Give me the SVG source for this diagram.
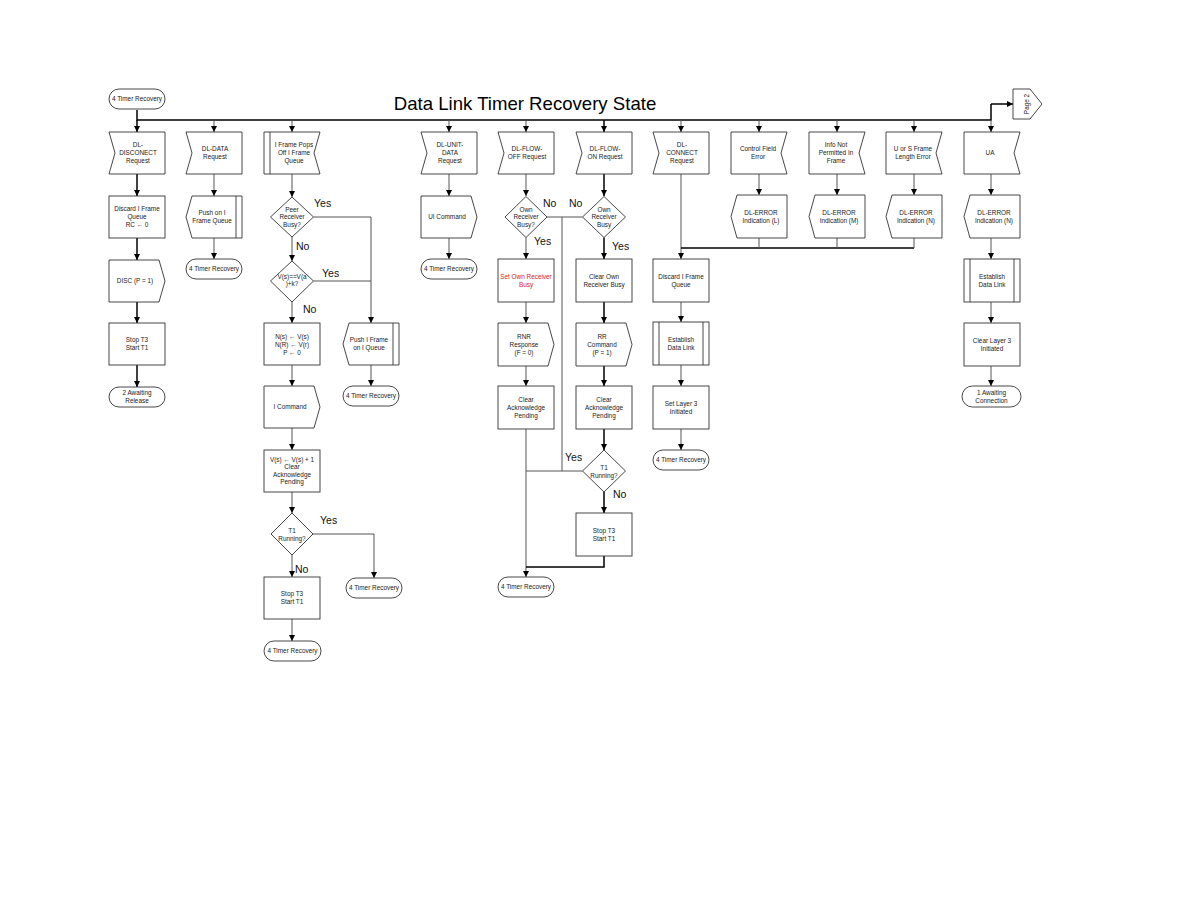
<svg xmlns="http://www.w3.org/2000/svg" width="1188" height="918" viewBox="0 0 1188 918">
<style>
.s{fill:#fff;stroke:#333;stroke-width:0.9}
.d{fill:none;stroke:#333;stroke-width:0.9}
.t{font-family:"Liberation Sans",Arial,sans-serif;font-size:6.4px;fill:#222;text-anchor:middle}
.r{fill:#e02020}
.yn{font-family:"Liberation Sans",Arial,sans-serif;font-size:10.5px;fill:#111}
.c{fill:none;stroke:#555;stroke-width:1}
.k{fill:none;stroke:#000;stroke-width:1.5}
.ca{marker-end:url(#ah)}
</style>
<defs>
<marker id="ah" markerUnits="userSpaceOnUse" markerWidth="6" markerHeight="6" viewBox="0 0 6 6" refX="6" refY="3" orient="auto">
<path d="M0,0 L6,3 L0,6 Z" fill="#000"/>
</marker>
</defs>
<rect width="1188" height="918" fill="#fff"/>
<text x="525" y="110" font-family="'Liberation Sans',Arial,sans-serif" font-size="18.6" text-anchor="middle" fill="#000">Data Link Timer Recovery State</text>

<g id="connectors">
<path class="k" d="M137,110 V120 H991 V104"/>
<path class="k ca" d="M991,104 H1013"/>
<path class="k ca" d="M137,120 V132"/>
<path class="c ca" d="M214,120 V132"/>
<path class="c ca" d="M292,120 V132"/>
<path class="c ca" d="M449,120 V132"/>
<path class="c ca" d="M526,120 V132"/>
<path class="k ca" d="M604,120 V132"/>
<path class="c ca" d="M681,120 V132"/>
<path class="c ca" d="M759,120 V132"/>
<path class="c ca" d="M837,120 V132"/>
<path class="c ca" d="M914,120 V132"/>
<path class="c ca" d="M991,120 V132"/>
<path class="k ca" d="M137,174 V196"/>
<path class="k ca" d="M137,238 V260"/>
<path class="k ca" d="M137,302 V323"/>
<path class="k ca" d="M137,365 V387"/>
<path class="c ca" d="M214,174 V196"/>
<path class="c ca" d="M214,238 V259"/>
<path class="c ca" d="M292,174 V197"/>
<path class="c ca" d="M292,237 V261"/>
<path class="c ca" d="M292,302 V323"/>
<path class="c ca" d="M292,365 V386"/>
<path class="c ca" d="M292,428 V450"/>
<path class="c ca" d="M292,492 V513"/>
<path class="c ca" d="M292,555 V577"/>
<path class="c ca" d="M292,619 V641"/>
<path class="c ca" d="M313.5,217 H371 V323"/>
<path class="c" d="M313.5,281 H371"/>
<path class="c ca" d="M371,365 V386"/>
<path class="c ca" d="M313,534 H374 V578"/>
<path class="c ca" d="M449,174 V196"/>
<path class="c ca" d="M449,238 V259"/>
<path class="c ca" d="M526,174 V196"/>
<path class="c ca" d="M526,237.5 V259"/>
<path class="c ca" d="M526,302 V323"/>
<path class="c ca" d="M526,366 V386"/>
<path class="c ca" d="M526,429 V577"/>
<path class="c" d="M547,217 H582.5"/>
<path class="c" d="M562,217 V471"/>
<path class="c" d="M582.5,471 H526"/>
<path class="k ca" d="M604,174 V196"/>
<path class="k ca" d="M604,237.5 V259"/>
<path class="k ca" d="M604,302 V323"/>
<path class="k ca" d="M604,366 V386"/>
<path class="k ca" d="M604,429 V450"/>
<path class="k ca" d="M604,492 V513"/>
<path class="k" d="M604,556 V567 H526"/>
<path class="c ca" d="M681,174 V259"/>
<path class="k" d="M681,248 H914"/>
<path class="c ca" d="M759,174 V195"/>
<path class="c ca" d="M837,174 V195"/>
<path class="c ca" d="M914,174 V195"/>
<path class="c" d="M759,238 V248"/>
<path class="c" d="M837,238 V248"/>
<path class="c" d="M914,238 V248"/>
<path class="c ca" d="M681,302 V322"/>
<path class="c ca" d="M681,365 V386"/>
<path class="c ca" d="M681,429 V450"/>
<path class="c ca" d="M991,174 V195"/>
<path class="c ca" d="M991,238 V259"/>
<path class="c ca" d="M991,302 V323"/>
<path class="c ca" d="M991,366 V386"/>
</g>

<g id="labels">
<text class="yn" x="314" y="207">Yes</text>
<text class="yn" x="296" y="250">No</text>
<text class="yn" x="322" y="277">Yes</text>
<text class="yn" x="303" y="313">No</text>
<text class="yn" x="320" y="524">Yes</text>
<text class="yn" x="295" y="573">No</text>
<text class="yn" x="543" y="207">No</text>
<text class="yn" x="569" y="207">No</text>
<text class="yn" x="534" y="245">Yes</text>
<text class="yn" x="612" y="250">Yes</text>
<text class="yn" x="565" y="461">Yes</text>
<text class="yn" x="613" y="498">No</text>
</g>

<g id="start">
<rect class="s" x="109" y="89" width="56" height="20" rx="10"/>
<text class="t" x="137" y="101.3">4 Timer Recovery</text>
</g>
<g id="page2">
<path class="s" d="M1013,89 H1030 L1042,104 L1030,119 H1013 Z"/>
<text class="t" transform="translate(1027,104) rotate(-90)" y="2.3">Page 2</text>
</g>

<g id="dl-disconnect">
<path class="s" d="M109,132 H165 V174 H109 L115,153 Z"/>
<text class="t" x="138" y="147.3">DL-</text>
<text class="t" x="138" y="155.3">DISCONECT</text>
<text class="t" x="138" y="163.3">Request</text>
</g>
<g id="discard1">
<rect class="s" x="109" y="196" width="56" height="42"/>
<text class="t" x="137" y="211.3">Discard I Frame</text>
<text class="t" x="137" y="219.3">Queue</text>
<text class="t" x="137" y="227.3">RC ← 0</text>
</g>
<g id="disc">
<path class="s" d="M109,260 H159 L165,281 L159,302 H109 Z"/>
<text class="t" x="135" y="283.3">DISC (P = 1)</text>
</g>
<g id="stop1">
<rect class="s" x="109" y="323" width="56" height="42"/>
<text class="t" x="137" y="342.3">Stop T3</text>
<text class="t" x="137" y="350.3">Start T1</text>
</g>
<g id="awaiting-release">
<rect class="s" x="109" y="387" width="56" height="20" rx="10"/>
<text class="t" x="137" y="395.3">2 Awaiting</text>
<text class="t" x="137" y="403.3">Release</text>
</g>

<g id="dl-data">
<path class="s" d="M186,132 H242 V174 H186 L192,153 Z"/>
<text class="t" x="215" y="151.3">DL-DATA</text>
<text class="t" x="215" y="159.3">Request</text>
</g>
<g id="push1">
<path class="s" d="M192,196 H242 V238 H192 L186,217 Z"/>
<path class="d" d="M236,196 V238"/>
<text class="t" x="212" y="215.3">Push on I</text>
<text class="t" x="212" y="223.3">Frame Queue</text>
</g>
<g id="tr2">
<rect class="s" x="186" y="259" width="56" height="20" rx="10"/>
<text class="t" x="214" y="271.3">4 Timer Recovery</text>
</g>

<g id="pops">
<path class="s" d="M264,132 H320 L314,153 L320,174 H264 Z"/>
<path class="d" d="M270,132 V174"/>
<text class="t" x="294" y="147.3">I Frame Pops</text>
<text class="t" x="294" y="155.3">Off I Frame</text>
<text class="t" x="294" y="163.3">Queue</text>
</g>
<g id="peer-busy">
<path class="s" d="M292,197 L313.5,217 L292,237 L270.5,217 Z"/>
<text class="t" x="292" y="211.8">Peer</text>
<text class="t" x="292" y="219.3">Receiver</text>
<text class="t" x="292" y="226.8">Busy?</text>
</g>
<g id="vs-va">
<path class="s" d="M292,261 L313.5,281 L292,302 L270.5,281 Z"/>
<text class="t" x="292" y="278.5">V(s)==V(a</text>
<text class="t" x="292" y="286">)+k?</text>
</g>
<g id="ns">
<rect class="s" x="264" y="323" width="56" height="42"/>
<text class="t" x="292" y="339.3">N(s) ← V(s)</text>
<text class="t" x="292" y="347.3">N(R) ← V(r)</text>
<text class="t" x="292" y="355.3">P ← 0</text>
</g>
<g id="icmd">
<path class="s" d="M264,386 H314 L320,407 L314,428 H264 Z"/>
<text class="t" x="290" y="409.3">I Command</text>
</g>
<g id="vsinc">
<rect class="s" x="264" y="450" width="56" height="42"/>
<text class="t" x="292" y="461.8">V(s) ← V(s) + 1</text>
<text class="t" x="292" y="469.3">Clear</text>
<text class="t" x="292" y="476.8">Acknowledge</text>
<text class="t" x="292" y="484.3">Pending</text>
</g>
<g id="t1run1">
<path class="s" d="M292,513 L313,534 L292,555 L271,534 Z"/>
<text class="t" x="292" y="533">T1</text>
<text class="t" x="292" y="541">Running?</text>
</g>
<g id="stop3">
<rect class="s" x="264" y="577" width="56" height="42"/>
<text class="t" x="292" y="596.3">Stop T3</text>
<text class="t" x="292" y="604.3">Start T1</text>
</g>
<g id="tr3">
<rect class="s" x="264" y="641" width="57" height="20" rx="10"/>
<text class="t" x="292.5" y="653.3">4 Timer Recovery</text>
</g>

<g id="push2">
<path class="s" d="M349,323 H399 V365 H349 L343,344 Z"/>
<path class="d" d="M393,323 V365"/>
<text class="t" x="369" y="342.3">Push I Frame</text>
<text class="t" x="369" y="350.3">on I Queue</text>
</g>
<g id="tr4">
<rect class="s" x="343" y="386" width="56" height="20" rx="10"/>
<text class="t" x="371" y="398.3">4 Timer Recovery</text>
</g>
<g id="tr4b">
<rect class="s" x="346" y="578" width="56" height="20" rx="10"/>
<text class="t" x="374" y="590.3">4 Timer Recovery</text>
</g>

<g id="dl-unit-data">
<path class="s" d="M421,132 H477 V174 H421 L427,153 Z"/>
<text class="t" x="450" y="147.3">DL-UNIT-</text>
<text class="t" x="450" y="155.3">DATA</text>
<text class="t" x="450" y="163.3">Request</text>
</g>
<g id="uicmd">
<path class="s" d="M421,196 H471 L477,217 L471,238 H421 Z"/>
<text class="t" x="447" y="219.3">UI Command</text>
</g>
<g id="tr5">
<rect class="s" x="421" y="259" width="56" height="20" rx="10"/>
<text class="t" x="449" y="271.3">4 Timer Recovery</text>
</g>

<g id="flow-off">
<path class="s" d="M498,132 H554 V174 H498 L504,153 Z"/>
<text class="t" x="527" y="151.3">DL-FLOW-</text>
<text class="t" x="527" y="159.3">OFF Request</text>
</g>
<g id="own-busy1">
<path class="s" d="M526,196.5 L547,217 L526,237.5 L505,217 Z"/>
<text class="t" x="526" y="211.8">Own</text>
<text class="t" x="526" y="219.3">Receiver</text>
<text class="t" x="526" y="226.8">Busy?</text>
</g>
<g id="set-own">
<rect class="s" x="498" y="259" width="56" height="43"/>
<text class="t r" x="526" y="278.8">Set Own Receiver</text>
<text class="t r" x="526" y="286.8">Busy</text>
</g>
<g id="rnr">
<path class="s" d="M498,323 H548 L554,344.5 L548,366 H498 Z"/>
<text class="t" x="524" y="338.8">RNR</text>
<text class="t" x="524" y="346.8">Response</text>
<text class="t" x="524" y="354.8">(F = 0)</text>
</g>
<g id="clear-ack1">
<rect class="s" x="498" y="386" width="56" height="43"/>
<text class="t" x="526" y="401.8">Clear</text>
<text class="t" x="526" y="409.8">Acknowledge</text>
<text class="t" x="526" y="417.8">Pending</text>
</g>
<g id="tr6">
<rect class="s" x="498" y="577" width="56" height="20" rx="10"/>
<text class="t" x="526" y="589.3">4 Timer Recovery</text>
</g>

<g id="flow-on">
<path class="s" d="M576,132 H632 V174 H576 L582,153 Z"/>
<text class="t" x="605" y="151.3">DL-FLOW-</text>
<text class="t" x="605" y="159.3">ON Request</text>
</g>
<g id="own-busy2">
<path class="s" d="M604,196.5 L625.5,217 L604,237.5 L582.5,217 Z"/>
<text class="t" x="604" y="211.8">Own</text>
<text class="t" x="604" y="219.3">Receiver</text>
<text class="t" x="604" y="226.8">Busy</text>
</g>
<g id="clear-own">
<rect class="s" x="576" y="259" width="56" height="43"/>
<text class="t" x="604" y="278.8">Clear Own</text>
<text class="t" x="604" y="286.8">Receiver Busy</text>
</g>
<g id="rr">
<path class="s" d="M576,323 H626 L632,344.5 L626,366 H576 Z"/>
<text class="t" x="602" y="338.8">RR</text>
<text class="t" x="602" y="346.8">Command</text>
<text class="t" x="602" y="354.8">(P = 1)</text>
</g>
<g id="clear-ack2">
<rect class="s" x="576" y="386" width="56" height="43"/>
<text class="t" x="604" y="401.8">Clear</text>
<text class="t" x="604" y="409.8">Acknowledge</text>
<text class="t" x="604" y="417.8">Pending</text>
</g>
<g id="t1run2">
<path class="s" d="M604,450 L625.5,471 L604,492 L582.5,471 Z"/>
<text class="t" x="604" y="470">T1</text>
<text class="t" x="604" y="478">Running?</text>
</g>
<g id="stop7">
<rect class="s" x="576" y="513" width="56" height="43"/>
<text class="t" x="604" y="532.8">Stop T3</text>
<text class="t" x="604" y="540.8">Start T1</text>
</g>

<g id="dl-connect">
<path class="s" d="M653,132 H709 V174 H653 L659,153 Z"/>
<text class="t" x="682" y="147.3">DL-</text>
<text class="t" x="682" y="155.3">CONNECT</text>
<text class="t" x="682" y="163.3">Request</text>
</g>
<g id="discard8">
<rect class="s" x="653" y="259" width="56" height="43"/>
<text class="t" x="681" y="278.8">Discard I Frame</text>
<text class="t" x="681" y="286.8">Queue</text>
</g>
<g id="establish8">
<rect class="s" x="653" y="322" width="56" height="43"/>
<path class="d" d="M659,322 V365 M703,322 V365"/>
<text class="t" x="681" y="341.8">Establish</text>
<text class="t" x="681" y="349.8">Data Link</text>
</g>
<g id="setl3">
<rect class="s" x="653" y="386" width="56" height="43"/>
<text class="t" x="681" y="405.8">Set Layer 3</text>
<text class="t" x="681" y="413.8">Initiated</text>
</g>
<g id="tr8">
<rect class="s" x="653" y="450" width="56" height="20" rx="10"/>
<text class="t" x="681" y="462.3">4 Timer Recovery</text>
</g>

<g id="cfe">
<path class="s" d="M731,132 H787 L781,153 L787,174 H731 Z"/>
<text class="t" x="758" y="151.3">Control Field</text>
<text class="t" x="758" y="159.3">Error</text>
</g>
<g id="err-l">
<path class="s" d="M737,195 H787 V238 H737 L731,216.5 Z"/>
<text class="t" x="761" y="214.8">DL-ERROR</text>
<text class="t" x="761" y="222.8">Indication (L)</text>
</g>

<g id="inp">
<path class="s" d="M809,132 H865 L859,153 L865,174 H809 Z"/>
<text class="t" x="836" y="147.3">Info Not</text>
<text class="t" x="836" y="155.3">Permitted In</text>
<text class="t" x="836" y="163.3">Frame</text>
</g>
<g id="err-m">
<path class="s" d="M815,195 H865 V238 H815 L809,216.5 Z"/>
<text class="t" x="839" y="214.8">DL-ERROR</text>
<text class="t" x="839" y="222.8">Indication (M)</text>
</g>

<g id="usfl">
<path class="s" d="M886,132 H942 L936,153 L942,174 H886 Z"/>
<text class="t" x="913" y="151.3">U or S Frame</text>
<text class="t" x="913" y="159.3">Length Error</text>
</g>
<g id="err-n">
<path class="s" d="M892,195 H942 V238 H892 L886,216.5 Z"/>
<text class="t" x="916" y="214.8">DL-ERROR</text>
<text class="t" x="916" y="222.8">Indication (N)</text>
</g>

<g id="ua">
<path class="s" d="M964,132 H1020 L1014,153 L1020,174 H964 Z"/>
<text class="t" x="990" y="155.3">UA</text>
</g>
<g id="err-n2">
<path class="s" d="M970,195 H1020 V238 H970 L964,216.5 Z"/>
<text class="t" x="994" y="214.8">DL-ERROR</text>
<text class="t" x="994" y="222.8">Indication (N)</text>
</g>
<g id="establish12">
<rect class="s" x="964" y="259" width="56" height="43"/>
<path class="d" d="M970,259 V302 M1014,259 V302"/>
<text class="t" x="992" y="278.8">Establish</text>
<text class="t" x="992" y="286.8">Data Link</text>
</g>
<g id="clearl3">
<rect class="s" x="964" y="323" width="56" height="43"/>
<text class="t" x="992" y="342.8">Clear Layer 3</text>
<text class="t" x="992" y="350.8">Initiated</text>
</g>
<g id="awaiting-conn">
<rect class="s" x="962" y="386" width="59" height="21" rx="10.5"/>
<text class="t" x="991.5" y="394.8">1 Awaiting</text>
<text class="t" x="991.5" y="402.8">Connection</text>
</g>
</svg>
